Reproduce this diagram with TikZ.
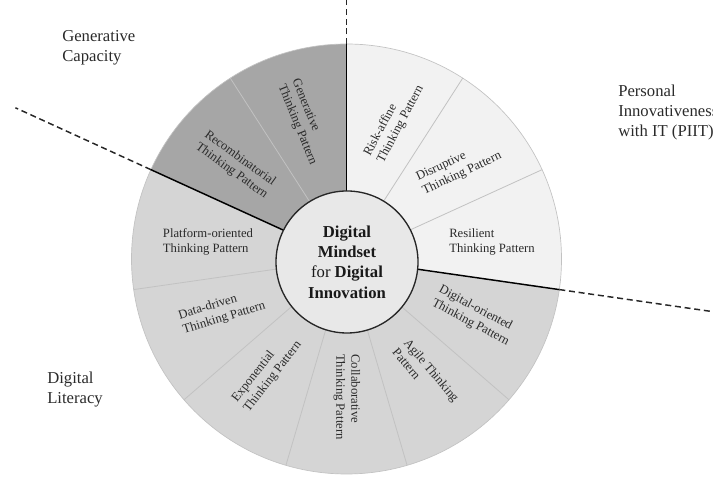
\documentclass[tikz,border=0pt]{standalone}
\usepackage{fontspec}
\setmainfont{Liberation Serif}
\definecolor{darkfill}{HTML}{A6A6A6}
\definecolor{midfill}{HTML}{D5D5D5}
\definecolor{lightfill}{HTML}{F2F2F2}
\definecolor{corefill}{HTML}{E8E8E8}
\definecolor{divider}{HTML}{C2C2C2}
\definecolor{ink}{HTML}{2A2A2A}
\begin{document}
\begin{tikzpicture}[x=0.75pt,y=0.75pt,
  sectorlabel/.style={font=\fontsize{9.5}{11.25}\selectfont, text=ink, align=left, inner sep=0pt},
  outerlabel/.style={font=\fontsize{12.5}{15}\selectfont, text=ink, align=left, inner sep=0pt, anchor=north west},
  spoke/.style={draw=divider, line width=0.6pt},
  boundary/.style={draw=black, line width=1.1pt},
  boundaryext/.style={draw=black!85, line width=1.1pt, dash pattern=on 4.5pt off 2.8pt}]
\useasboundingbox (0,0) rectangle (713,477);
\clip (0,0) rectangle (713,477);

% wheel centre and radii
\coordinate (C) at (346.5,218);
\def\Rout{215}

% three coloured groups of sectors
\fill[darkfill] (C) -- ([shift={(90:\Rout)}]C) arc[start angle=90, end angle=155.4545, radius=\Rout] -- cycle;
\fill[midfill] (C) -- ([shift={(155.4545:\Rout)}]C) arc[start angle=155.4545, end angle=351.8182, radius=\Rout] -- cycle;
\fill[lightfill] (C) -- ([shift={(351.8182:\Rout)}]C) arc[start angle=351.8182, end angle=450, radius=\Rout] -- cycle;
\draw[divider, line width=0.5pt] (C) circle[radius=\Rout];

% thin spokes between the eleven sectors
\foreach \k in {1,3,4,5,6,7,9,10}{
  \coordinate (sp\k) at ([shift={(90+\k*32.72727:\Rout)}]C);
  \draw[spoke] (C) -- (sp\k);
}

% heavy group boundaries with dashed extensions
\coordinate (bA) at ([shift={(90:\Rout)}]C);
\coordinate (bB) at ([shift={(155.4545:\Rout)}]C);
\coordinate (bC) at ([shift={(351.8182:\Rout)}]C);
\coordinate (eA) at ([shift={(90:420)}]C);
\coordinate (eB) at ([shift={(155.4545:364)}]C);
\coordinate (eC) at ([shift={(351.8182:420)}]C);
\draw[boundary] (C) -- (bA);
\draw[boundary] (C) -- (bB);
\draw[boundary] (C) -- (bC);
\draw[boundaryext] (bA) -- (eA);
\draw[boundaryext] (bB) -- (eB);
\draw[boundaryext] (bC) -- (eC);

% centre disc
\node[circle, draw=black!85, line width=1pt, fill=corefill, minimum size=106.5pt, inner sep=0pt,
      align=center, text=black!90, font=\fontsize{12.5}{15.3}\selectfont] (core) at (347,215)
  {\textbf{Digital}\\\textbf{Mindset}\\for \textbf{Digital}\\\textbf{Innovation}};

% sector labels
\node[sectorlabel, rotate=-68] (gen) at (304,355) {Generative\\Thinking Pattern};
\node[sectorlabel, rotate=-36] (recomb) at (236,312) {Recombinatorial\\Thinking Pattern};
\node[sectorlabel] (platform) at (208,235) {Platform-oriented\\Thinking Pattern};
\node[sectorlabel, rotate=17] (datadriven) at (222,166) {Data-driven\\Thinking Pattern};
\node[sectorlabel, rotate=52] (expo) at (267,105) {Exponential\\Thinking Pattern};
\node[sectorlabel, rotate=-90] (collab) at (347,80) {Collaborative\\Thinking Pattern};
\node[sectorlabel, rotate=-50] (agile) at (426,102) {Agile Thinking\\Pattern};
\node[sectorlabel, rotate=-28] (digor) at (474,161) {Digital-oriented\\Thinking Pattern};
\node[sectorlabel] (resil) at (492,235) {Resilient\\Thinking Pattern};
\node[sectorlabel, rotate=25] (disrupt) at (459,310) {Disruptive\\Thinking Pattern};
\node[sectorlabel, rotate=62] (risk) at (394,356) {Risk-affine\\Thinking Pattern};

% group names outside the wheel
\node[outerlabel] (gencap) at (62,447) {Generative\\Capacity};
\node[outerlabel] (piit) at (618,392) {Personal\\Innovativeness\\with IT (PIIT)};
\node[outerlabel] (diglit) at (47,105) {Digital\\Literacy};
\end{tikzpicture}
\end{document}
